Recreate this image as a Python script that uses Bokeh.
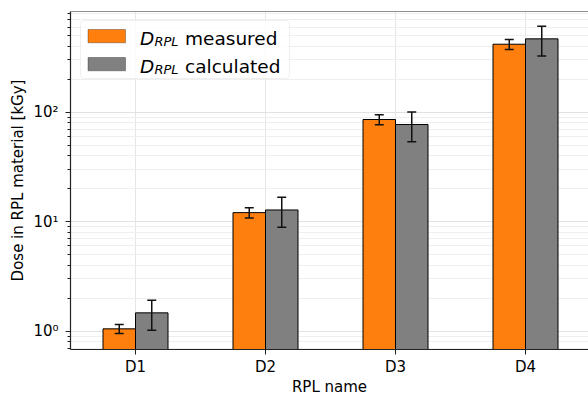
from bokeh.plotting import figure
from bokeh.models import (Range1d, FixedTicker, Whisker, TeeHead, ColumnDataSource,
                          BoxAnnotation, Label, Span)
from bokeh.embed import file_html
from bokeh.resources import INLINE

names = ["D1", "D2", "D3", "D4"]
measured = [1.05, 12.1, 85.8, 418]
err_measured = [0.10, 1.3, 9.0, 43]
calculated = [1.47, 12.8, 77.2, 468]
err_calculated = [0.45, 3.9, 23.5, 141]
y_major = [1, 10, 100]
y_labels = ["10\u2070", "10\u00b9", "10\u00b2"]

ORANGE = "#ff7f0e"
GRAY = "#808080"
FONT = "DejaVu Sans"
BW = 0.25

x = list(range(len(names)))
src = ColumnDataSource(dict(
    xm=[i - BW / 2 for i in x], xc=[i + BW / 2 for i in x],
    m=measured, c=calculated,
    mu=[v + e for v, e in zip(measured, err_measured)],
    ml=[v - e for v, e in zip(measured, err_measured)],
    cu=[v + e for v, e in zip(calculated, err_calculated)],
    cl=[v - e for v, e in zip(calculated, err_calculated)],
))

p = figure(width=588, height=399, y_axis_type="log",
           x_range=Range1d(-0.5, 3.4846), y_range=Range1d(0.68, 832),
           output_backend="svg", toolbar_location=None,
           min_border_left=70, min_border_right=0, min_border_top=11, min_border_bottom=50)
p.outline_line_color = None
p.background_fill_color = "white"

p.vbar(x="xm", top="m", bottom=0.01, width=BW, source=src,
       fill_color=ORANGE, line_color="black", line_width=1)
p.vbar(x="xc", top="c", bottom=0.01, width=BW, source=src,
       fill_color=GRAY, line_color="black", line_width=1)

for base, up, lo in (("xm", "mu", "ml"), ("xc", "cu", "cl")):
    w = Whisker(source=src, base=base, upper=up, lower=lo, dimension="height",
                line_color="#111111", line_width=1.5, level="annotation",
                upper_head=TeeHead(size=9, line_color="#111111", line_width=1.5),
                lower_head=TeeHead(size=9, line_color="#111111", line_width=1.5))
    p.add_layout(w)

# axes
minor = [k * 10 ** e for e in (-1, 0, 1, 2) for k in range(2, 10)]
yt = FixedTicker(ticks=y_major, minor_ticks=minor)
p.yaxis.ticker = yt
p.ygrid.ticker = yt
p.yaxis.major_label_overrides = {t: s for t, s in zip(y_major, y_labels)}
xt = FixedTicker(ticks=x)
p.xaxis.ticker = xt
p.xgrid.ticker = xt
p.xaxis.major_label_overrides = {i: n for i, n in zip(x, names)}

p.xaxis.axis_label = "RPL name"
p.yaxis.axis_label = "Dose in RPL material [kGy]"
for ax in (p.xaxis, p.yaxis):
    ax.axis_label_text_font = FONT
    ax.axis_label_text_font_style = "normal"
    ax.axis_label_text_font_size = "15px"
    ax.axis_label_text_color = "black"
    ax.major_label_text_font = FONT
    ax.major_label_text_font_size = "15px"
    ax.major_label_text_color = "black"
    ax.axis_line_color = "#222222"
    ax.axis_line_width = 1.2
    ax.major_tick_line_color = "#222222"
    ax.major_tick_in = 0
    ax.major_tick_out = 5
    ax.minor_tick_in = 0
    ax.minor_tick_out = 3
p.xaxis.major_label_standoff = 3
p.xaxis.axis_label_standoff = -1
p.yaxis.major_label_standoff = 7
p.yaxis.axis_label_standoff = 3
p.xaxis.minor_tick_line_color = None
p.yaxis.minor_tick_line_color = "#222222"

p.xgrid.grid_line_color = "#e6e6e6"
p.ygrid.grid_line_color = "#e2e2e2"
p.ygrid.minor_grid_line_color = "#efefef"

p.add_layout(Span(location=832, dimension="width", line_color="#222222", line_width=1.2))

# legend (manual, to allow italic/subscript label)
p.add_layout(BoxAnnotation(left=10, right=219, top=329, bottom=271,
                           left_units="screen", right_units="screen",
                           top_units="screen", bottom_units="screen",
                           fill_color="white", fill_alpha=0.8,
                           line_color="#cccccc", line_width=1, border_radius=4))
rows = [("measured", ORANGE, 320, 311), ("calculated", GRAY, 292, 283.5)]
for word, col, top, base in rows:
    p.add_layout(BoxAnnotation(left=17.5, right=55, top=top, bottom=top - 13.3,
                               left_units="screen", right_units="screen",
                               top_units="screen", bottom_units="screen",
                               fill_color=col, fill_alpha=1, line_color="black", line_width=1))
    p.add_layout(Label(x=69.5, y=base, x_units="screen", y_units="screen", text="D",
                       text_font=FONT, text_font_style="italic", text_font_size="18.5px",
                       text_baseline="alphabetic", text_color="black"))
    p.add_layout(Label(x=84, y=base - 3, x_units="screen", y_units="screen", text="RPL",
                       text_font=FONT, text_font_style="italic", text_font_size="13px",
                       text_baseline="alphabetic", text_color="black"))
    p.add_layout(Label(x=114.5, y=base, x_units="screen", y_units="screen", text=word,
                       text_font=FONT, text_font_size="18.5px",
                       text_baseline="alphabetic", text_color="black"))

open("out.html", "w").write(file_html(p, INLINE))
